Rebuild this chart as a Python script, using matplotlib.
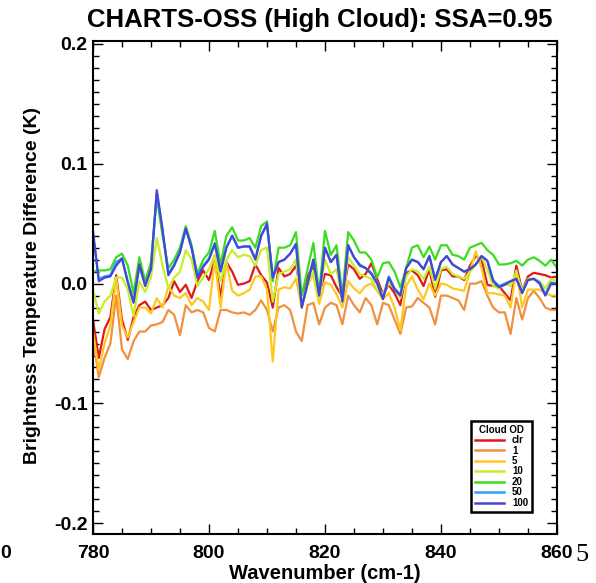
import numpy as np
import matplotlib
matplotlib.use('Agg')
import matplotlib.pyplot as plt
from matplotlib.ticker import MultipleLocator, FormatStrFormatter

plt.rcParams['font.family'] = ['Liberation Sans', 'DejaVu Sans']
plt.rcParams['font.weight'] = 'bold'
plt.rcParams['axes.unicode_minus'] = False

# wavenumber grid (cm-1)
wavenumber = np.arange(780, 861, 1)

# brightness temperature differences (K) for each cloud optical depth
bt_clr = [-0.030, -0.062, -0.038, -0.028, 0.007, -0.030, -0.047, -0.028, -0.018, -0.015,
          -0.022, -0.020, -0.018, -0.012, 0.002, -0.007, -0.001, -0.012, 0.002, 0.011,
          0.003, 0.020, -0.011, 0.018, 0.010, -0.001, 0.000, 0.002, 0.016, 0.007,
          0.001, -0.020, 0.013, 0.006, 0.008, 0.015, -0.009, 0.006, 0.015, -0.008,
          0.008, 0.007, -0.003, -0.011, 0.016, 0.012, 0.004, 0.008, 0.017, 0.004,
          -0.009, -0.001, -0.008, -0.018, 0.009, 0.011, 0.007, -0.002, 0.012, -0.011,
          0.011, 0.012, 0.006, 0.006, 0.003, 0.015, 0.023, 0.020, -0.001, -0.002,
          -0.002, -0.008, -0.014, 0.015, -0.006, 0.006, 0.009, 0.008, 0.007, 0.005,
          0.006]
bt_od1 = [-0.045, -0.078, -0.062, -0.050, -0.010, -0.055, -0.063, -0.048, -0.040, -0.040,
          -0.035, -0.034, -0.032, -0.022, -0.026, -0.043, -0.018, -0.024, -0.022, -0.024,
          -0.037, -0.040, -0.022, -0.022, -0.024, -0.025, -0.024, -0.026, -0.022, -0.014,
          -0.022, -0.040, -0.020, -0.018, -0.022, -0.040, -0.048, -0.018, -0.016, -0.034,
          -0.020, -0.016, -0.018, -0.034, -0.010, -0.018, -0.024, -0.012, -0.018, -0.034,
          -0.016, -0.018, -0.030, -0.042, -0.020, -0.019, -0.012, -0.016, -0.020, -0.034,
          -0.010, -0.010, -0.012, -0.014, -0.022, 0.000, 0.000, 0.002, -0.010, -0.020,
          -0.024, -0.024, -0.042, -0.012, -0.030, -0.012, -0.006, -0.012, -0.020, -0.022,
          -0.022]
bt_od5 = [-0.040, -0.072, -0.050, -0.035, 0.005, -0.035, -0.045, -0.032, -0.020, -0.020,
          -0.025, -0.012, -0.020, -0.002, -0.010, -0.012, -0.008, -0.018, -0.012, -0.015,
          -0.022, 0.020, -0.020, 0.018, -0.006, -0.010, -0.008, -0.005, 0.006, 0.006,
          -0.005, -0.065, -0.005, -0.003, -0.004, 0.004, -0.020, 0.000, 0.007, -0.017,
          0.001, -0.001, -0.009, -0.020, 0.002, -0.004, -0.008, -0.002, 0.000, -0.006,
          -0.013, -0.008, -0.020, -0.039, -0.002, 0.006, -0.005, -0.013, 0.000, -0.010,
          0.000, -0.001, -0.004, -0.005, -0.006, 0.010, 0.027, 0.013, -0.008, -0.008,
          -0.009, -0.010, -0.020, 0.011, -0.020, -0.005, -0.005, -0.005, -0.008, -0.010,
          -0.010]
bt_od10 = [-0.005, -0.025, -0.015, -0.010, 0.005, 0.005, -0.005, -0.027, 0.002, -0.007,
           0.005, 0.038, 0.015, -0.004, 0.005, 0.010, 0.028, 0.020, -0.002, 0.005,
           0.012, 0.024, 0.002, 0.020, 0.028, 0.022, 0.024, 0.023, 0.015, 0.028,
           0.030, -0.015, 0.008, 0.010, 0.012, 0.020, -0.020, -0.002, 0.010, -0.012,
           0.020, 0.008, 0.012, -0.015, 0.022, 0.015, 0.008, 0.006, 0.004, -0.006,
           -0.008, 0.000, -0.004, -0.012, 0.006, 0.012, 0.010, 0.004, 0.014, -0.004,
           0.012, 0.014, 0.008, 0.006, 0.004, 0.010, 0.016, 0.022, 0.012, -0.002,
           -0.004, 0.000, -0.002, 0.010, -0.006, 0.004, 0.004, 0.002, -0.004, 0.004,
           0.002]
bt_od20 = [0.010, 0.011, 0.011, 0.012, 0.022, 0.025, 0.015, -0.008, 0.022, 0.002,
           0.018, 0.072, 0.040, 0.013, 0.020, 0.030, 0.048, 0.032, 0.008, 0.020,
           0.026, 0.044, 0.016, 0.040, 0.047, 0.036, 0.036, 0.038, 0.030, 0.048,
           0.052, 0.002, 0.030, 0.030, 0.032, 0.043, -0.010, 0.012, 0.034, -0.008,
           0.044, 0.024, 0.032, -0.010, 0.043, 0.036, 0.026, 0.026, 0.020, 0.005,
           0.017, 0.018, 0.010, -0.003, 0.013, 0.030, 0.032, 0.022, 0.031, 0.020,
           0.032, 0.032, 0.024, 0.023, 0.020, 0.030, 0.032, 0.034, 0.028, 0.024,
           0.016, 0.016, 0.017, 0.019, 0.015, 0.020, 0.022, 0.019, 0.015, 0.020,
           0.013]
bt_od50 = [0.042, 0.004, 0.006, 0.007, 0.018, 0.021, 0.002, -0.015, 0.015, -0.001,
           0.013, 0.076, 0.044, 0.008, 0.016, 0.027, 0.046, 0.030, 0.006, 0.015,
           0.021, 0.034, 0.011, 0.030, 0.040, 0.030, 0.031, 0.031, 0.021, 0.040,
           0.049, 0.005, 0.018, 0.020, 0.025, 0.033, -0.019, 0.001, 0.020, -0.009,
           0.030, 0.018, 0.024, -0.014, 0.032, 0.022, 0.016, 0.013, 0.009, 0.001,
           -0.012, 0.006, -0.004, -0.009, 0.013, 0.020, 0.018, 0.012, 0.023, 0.004,
           0.018, 0.023, 0.016, 0.013, 0.010, 0.012, 0.016, 0.023, 0.019, 0.003,
           -0.002, 0.000, 0.002, 0.004, -0.007, 0.003, 0.004, 0.001, -0.009, 0.001,
           0.000]
bt_od100 = [0.044, 0.002, 0.005, 0.006, 0.015, 0.021, 0.001, -0.016, 0.016, -0.002,
            0.012, 0.078, 0.045, 0.007, 0.015, 0.026, 0.046, 0.030, 0.005, 0.014,
            0.020, 0.033, 0.010, 0.030, 0.040, 0.030, 0.031, 0.031, 0.020, 0.040,
            0.050, 0.005, 0.018, 0.020, 0.025, 0.033, -0.020, 0.000, 0.020, -0.010,
            0.030, 0.018, 0.024, -0.015, 0.032, 0.022, 0.015, 0.013, 0.008, 0.000,
            -0.013, 0.005, -0.005, -0.010, 0.013, 0.020, 0.018, 0.012, 0.023, 0.003,
            0.018, 0.023, 0.016, 0.013, 0.010, 0.012, 0.016, 0.023, 0.019, 0.002,
            -0.003, -0.001, 0.002, 0.004, -0.008, 0.003, 0.004, 0.000, -0.010, 0.000,
            0.000]

labels = ['clr', '1', '5', '10', '20', '50', '100']
colors = ['#e01818', '#f09040', '#ffc81e', '#c8ee28', '#3cdc1e', '#2ca0ff', '#4646d2']
series = [bt_clr, bt_od1, bt_od5, bt_od10, bt_od20, bt_od50, bt_od100]

fig = plt.figure(figsize=(5.96, 5.83), dpi=100)
ax = fig.add_axes([0.156, 0.084, 0.7785, 0.8457])

for vals, c, lab in zip(series, colors, labels):
    ax.plot(wavenumber, vals, color=c, lw=1.6, label=lab)

ax.set_xlim(780, 860)
ax.set_ylim(-0.209, 0.2025)
ax.xaxis.set_major_locator(MultipleLocator(20))
ax.xaxis.set_minor_locator(MultipleLocator(5))
ax.yaxis.set_major_locator(MultipleLocator(0.1))
ax.yaxis.set_minor_locator(MultipleLocator(0.01))
ax.yaxis.set_major_formatter(FormatStrFormatter('%.1f'))
ax.tick_params(which='both', direction='in', top=True, right=True, width=1.0)
ax.tick_params(which='major', length=7, labelsize=14)
ax.tick_params(which='minor', length=4)
ax.tick_params(axis='x', which='major', pad=8)
ax.tick_params(axis='y', which='major', pad=4)
for s in ax.spines.values():
    s.set_linewidth(1.5)

fig.text(0.537, 0.965, 'CHARTS-OSS (High Cloud): SSA=0.95', ha='center', va='center',
         fontsize=18.5, fontweight='bold')
fig.text(0.054, 0.51, 'Brightness Temperature Difference (K)', rotation=90,
         ha='center', va='center', fontsize=14, fontweight='bold')
fig.text(0.545, 0.016, 'Wavenumber (cm-1)', ha='center', va='center',
         fontsize=14.5, fontweight='bold')
# stray fragments visible in the original figure
fig.text(0.001, 0.051, '0', ha='left', va='center', fontsize=14, fontweight='bold')
fig.text(0.965, 0.048, '5', ha='left', va='center', fontsize=19,
         family=['Liberation Serif', 'DejaVu Serif'], fontweight='normal')

leg = ax.legend(loc='lower left', bbox_to_anchor=(0.815, 0.045), title='Cloud OD',
                fontsize=7, title_fontsize=7, handlelength=3.0, handletextpad=0.8,
                labelspacing=0.05, borderpad=0.4, fancybox=False, framealpha=1,
                edgecolor='black', borderaxespad=0)
leg.get_frame().set_linewidth(1.8)
leg.get_title().set_fontweight('bold')
for line in leg.get_lines():
    line.set_linewidth(1.8)

fig.savefig('out.png', dpi=100)
